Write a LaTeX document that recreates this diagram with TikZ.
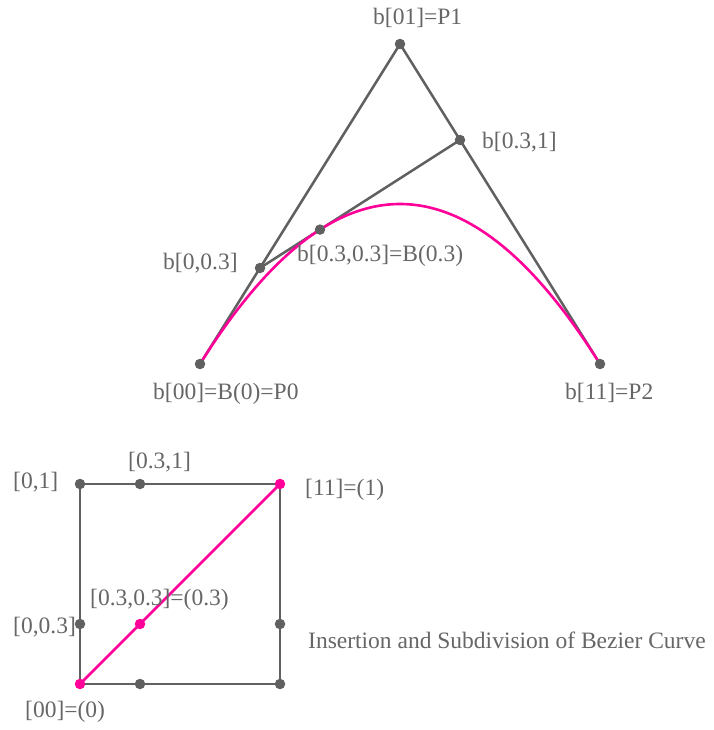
\documentclass[tikz,border=0pt]{standalone}
\usepackage{fontspec}
\setmainfont{Liberation Serif}
\usepackage{tikz}
\usetikzlibrary{positioning, calc}
\definecolor{linegray}{RGB}{96,96,96}
\definecolor{textgray}{RGB}{102,102,102}
\definecolor{curvepink}{RGB}{255,0,153}
\tikzset{
  lbl/.style={font=\fontsize{23.5}{26}\selectfont, text=textgray, inner sep=0pt, anchor=base west},
  poly/.style={draw=linegray, line width=2.5pt, line join=round},
  curve/.style={draw=curvepink, line width=2.6pt},
  dot/.style={circle, fill=linegray, inner sep=0pt, minimum size=10.5pt},
  pdot/.style={dot, fill=curvepink},
}

\begin{document}
\begin{tikzpicture}[x=1pt, y=-1pt]
  \useasboundingbox (0,0) rectangle (713,730);
  % control polygon
  \coordinate (p0) at (200,364);
  \coordinate (p1) at (400,44);
  \coordinate (p2) at (600,364);
  \coordinate (b03) at ($(p0)!0.3!(p1)$);
  \coordinate (b31) at ($(p1)!0.3!(p2)$);
  \coordinate (b33) at ($(b03)!0.3!(b31)$);
  \draw[poly] (p0) -- (p1) -- (p2);
  \draw[poly] (b03) -- (b31);
  \draw[curve] (p0) .. controls ($(p0)!2/3!(p1)$) and ($(p2)!2/3!(p1)$) .. (p2);
  \foreach \pt in {p0,p1,p2,b03,b31,b33}
    \node[dot] at (\pt) {};
  \node[lbl] (lp1) at (373,25) {b[01]=P1};
  \node[lbl] (lb31) at (482,149) {b[0.3,1]};
  \node[lbl] (lb03) at (163,269) {b[0,0.3]};
  \node[lbl] (lb33) at (297,261) {b[0.3,0.3]=B(0.3)};
  \node[lbl] (lp0) at (153,399) {b[00]=B(0)=P0};
  \node[lbl] (lp2) at (565,399) {b[11]=P2};
  % parameter square
  \coordinate (s00) at (80,684);
  \coordinate (s01) at (80,484);
  \coordinate (s11) at (280,484);
  \coordinate (s10) at (280,684);
  \coordinate (s03) at ($(s00)!0.3!(s01)$);
  \coordinate (s31) at ($(s01)!0.3!(s11)$);
  \coordinate (s13) at ($(s10)!0.3!(s11)$);
  \coordinate (s30) at ($(s00)!0.3!(s10)$);
  \coordinate (s33) at ($(s00)!0.3!(s11)$);
  \draw[poly] (s00) -- (s01) -- (s11) -- (s10) -- cycle;
  \draw[curve] (s00) -- (s11);
  \foreach \pt in {s01,s31,s03,s13,s30,s10}
    \node[dot] at (\pt) {};
  \foreach \pt in {s00,s11,s33}
    \node[pdot] at (\pt) {};
  \node[lbl] (ls31) at (128,468) {[0.3,1]};
  \node[lbl] (ls01) at (13,488) {[0,1]};
  \node[lbl] (ls11) at (305,495) {[11]=(1)};
  \node[lbl] (ls33) at (90,605) {[0.3,0.3]=(0.3)};
  \node[lbl] (ls03) at (13,633) {[0,0.3]};
  \node[lbl] (ls00) at (25,717) {[00]=(0)};
  \node[lbl] (title) at (308,648) {Insertion and Subdivision of Bezier Curve};
\end{tikzpicture}
\end{document}
